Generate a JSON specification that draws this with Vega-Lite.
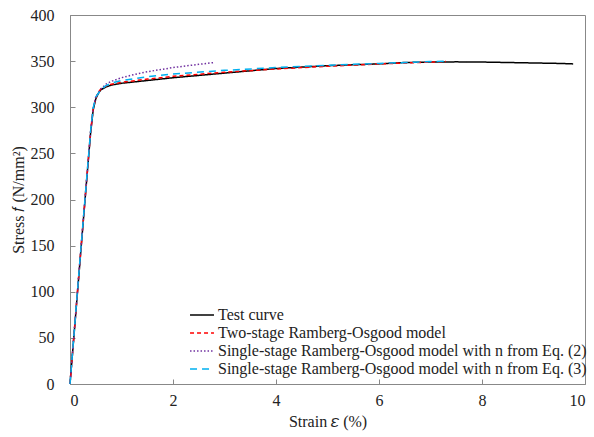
{
  "$schema": "https://vega.github.io/schema/vega-lite/v6.json",
  "width": 515,
  "height": 369,
  "autosize": {"type": "none"},
  "padding": {"left": 70, "top": 15, "right": 9, "bottom": 53},
  "background": "white",
  "config": {
    "font": "Liberation Serif",
    "view": {"stroke": "#888888", "strokeWidth": 1},
    "axis": {"labelFont": "Liberation Serif", "titleFont": "Liberation Serif", "labelFontSize": 16, "titleFontSize": 16, "labelColor": "#222", "titleColor": "#222", "titleFontWeight": "normal", "grid": false, "domainColor": "#888888", "tickColor": "#888888", "tickSize": -5},
    "legend": {"labelFont": "Liberation Serif"}
  },
  "data": {"values": [
    {"s": "Test curve", "x": 0, "y": 0},
    {"s": "Test curve", "x": 0.1, "y": 68},
    {"s": "Test curve", "x": 0.2, "y": 137},
    {"s": "Test curve", "x": 0.3, "y": 205},
    {"s": "Test curve", "x": 0.4, "y": 272},
    {"s": "Test curve", "x": 0.45, "y": 297},
    {"s": "Test curve", "x": 0.5, "y": 309},
    {"s": "Test curve", "x": 0.55, "y": 315},
    {"s": "Test curve", "x": 0.6, "y": 319},
    {"s": "Test curve", "x": 0.7, "y": 322},
    {"s": "Test curve", "x": 0.8, "y": 324},
    {"s": "Test curve", "x": 1.0, "y": 326},
    {"s": "Test curve", "x": 1.5, "y": 329},
    {"s": "Test curve", "x": 2.0, "y": 332},
    {"s": "Test curve", "x": 2.5, "y": 334.5},
    {"s": "Test curve", "x": 3.0, "y": 337},
    {"s": "Test curve", "x": 3.5, "y": 339.5},
    {"s": "Test curve", "x": 4.0, "y": 342},
    {"s": "Test curve", "x": 4.5, "y": 343.5},
    {"s": "Test curve", "x": 5.0, "y": 345},
    {"s": "Test curve", "x": 5.5, "y": 346},
    {"s": "Test curve", "x": 6.0, "y": 347},
    {"s": "Test curve", "x": 6.5, "y": 348.5},
    {"s": "Test curve", "x": 7.0, "y": 349},
    {"s": "Test curve", "x": 7.5, "y": 349.2},
    {"s": "Test curve", "x": 8.0, "y": 349},
    {"s": "Test curve", "x": 8.5, "y": 348.5},
    {"s": "Test curve", "x": 9.0, "y": 348},
    {"s": "Test curve", "x": 9.5, "y": 347.5},
    {"s": "Test curve", "x": 9.77, "y": 347},

    {"s": "Two-stage Ramberg-Osgood model", "x": 0, "y": 0},
    {"s": "Two-stage Ramberg-Osgood model", "x": 0.2, "y": 138},
    {"s": "Two-stage Ramberg-Osgood model", "x": 0.4, "y": 273},
    {"s": "Two-stage Ramberg-Osgood model", "x": 0.45, "y": 298},
    {"s": "Two-stage Ramberg-Osgood model", "x": 0.5, "y": 310},
    {"s": "Two-stage Ramberg-Osgood model", "x": 0.55, "y": 316},
    {"s": "Two-stage Ramberg-Osgood model", "x": 0.6, "y": 320},
    {"s": "Two-stage Ramberg-Osgood model", "x": 0.7, "y": 323},
    {"s": "Two-stage Ramberg-Osgood model", "x": 0.8, "y": 325},
    {"s": "Two-stage Ramberg-Osgood model", "x": 1.0, "y": 327},
    {"s": "Two-stage Ramberg-Osgood model", "x": 1.5, "y": 330.5},
    {"s": "Two-stage Ramberg-Osgood model", "x": 2.0, "y": 333.5},
    {"s": "Two-stage Ramberg-Osgood model", "x": 3.0, "y": 338},
    {"s": "Two-stage Ramberg-Osgood model", "x": 4.0, "y": 341.5},
    {"s": "Two-stage Ramberg-Osgood model", "x": 5.0, "y": 344.5},
    {"s": "Two-stage Ramberg-Osgood model", "x": 6.0, "y": 347},
    {"s": "Two-stage Ramberg-Osgood model", "x": 7.0, "y": 349},
    {"s": "Two-stage Ramberg-Osgood model", "x": 7.3, "y": 349.5},

    {"s": "Single-stage Ramberg-Osgood model with n from Eq. (2)", "x": 0, "y": 0},
    {"s": "Single-stage Ramberg-Osgood model with n from Eq. (2)", "x": 0.2, "y": 139},
    {"s": "Single-stage Ramberg-Osgood model with n from Eq. (2)", "x": 0.4, "y": 274},
    {"s": "Single-stage Ramberg-Osgood model with n from Eq. (2)", "x": 0.45, "y": 299},
    {"s": "Single-stage Ramberg-Osgood model with n from Eq. (2)", "x": 0.5, "y": 311},
    {"s": "Single-stage Ramberg-Osgood model with n from Eq. (2)", "x": 0.6, "y": 320},
    {"s": "Single-stage Ramberg-Osgood model with n from Eq. (2)", "x": 0.7, "y": 325},
    {"s": "Single-stage Ramberg-Osgood model with n from Eq. (2)", "x": 0.8, "y": 328},
    {"s": "Single-stage Ramberg-Osgood model with n from Eq. (2)", "x": 1.0, "y": 332},
    {"s": "Single-stage Ramberg-Osgood model with n from Eq. (2)", "x": 1.25, "y": 335.5},
    {"s": "Single-stage Ramberg-Osgood model with n from Eq. (2)", "x": 1.5, "y": 338.5},
    {"s": "Single-stage Ramberg-Osgood model with n from Eq. (2)", "x": 2.0, "y": 343},
    {"s": "Single-stage Ramberg-Osgood model with n from Eq. (2)", "x": 2.5, "y": 346.5},
    {"s": "Single-stage Ramberg-Osgood model with n from Eq. (2)", "x": 2.8, "y": 348.5},

    {"s": "Single-stage Ramberg-Osgood model with n from Eq. (3)", "x": 0, "y": 0},
    {"s": "Single-stage Ramberg-Osgood model with n from Eq. (3)", "x": 0.2, "y": 139},
    {"s": "Single-stage Ramberg-Osgood model with n from Eq. (3)", "x": 0.4, "y": 274},
    {"s": "Single-stage Ramberg-Osgood model with n from Eq. (3)", "x": 0.45, "y": 299},
    {"s": "Single-stage Ramberg-Osgood model with n from Eq. (3)", "x": 0.5, "y": 311},
    {"s": "Single-stage Ramberg-Osgood model with n from Eq. (3)", "x": 0.6, "y": 319},
    {"s": "Single-stage Ramberg-Osgood model with n from Eq. (3)", "x": 0.7, "y": 323.5},
    {"s": "Single-stage Ramberg-Osgood model with n from Eq. (3)", "x": 0.8, "y": 326},
    {"s": "Single-stage Ramberg-Osgood model with n from Eq. (3)", "x": 1.0, "y": 329},
    {"s": "Single-stage Ramberg-Osgood model with n from Eq. (3)", "x": 1.5, "y": 333},
    {"s": "Single-stage Ramberg-Osgood model with n from Eq. (3)", "x": 2.0, "y": 336},
    {"s": "Single-stage Ramberg-Osgood model with n from Eq. (3)", "x": 3.0, "y": 340},
    {"s": "Single-stage Ramberg-Osgood model with n from Eq. (3)", "x": 4.0, "y": 343},
    {"s": "Single-stage Ramberg-Osgood model with n from Eq. (3)", "x": 5.0, "y": 345.5},
    {"s": "Single-stage Ramberg-Osgood model with n from Eq. (3)", "x": 6.0, "y": 347.5},
    {"s": "Single-stage Ramberg-Osgood model with n from Eq. (3)", "x": 7.0, "y": 349.5},
    {"s": "Single-stage Ramberg-Osgood model with n from Eq. (3)", "x": 7.3, "y": 350}
  ]},
  "mark": {"type": "line", "strokeWidth": 1.5},
  "encoding": {
    "x": {"field": "x", "type": "quantitative", "title": "Strain 𝜀 (%)", "scale": {"domain": [0, 10], "nice": false}, "axis": {"values": [0, 2, 4, 6, 8, 10], "labelPadding": 13, "titlePadding": 5}},
    "y": {"field": "y", "type": "quantitative", "title": "Stress 𝑓 (N/mm²)", "scale": {"domain": [0, 400], "nice": false}, "axis": {"values": [0, 50, 100, 150, 200, 250, 300, 350, 400], "labelPadding": 21, "titlePadding": 4}},
    "color": {"field": "s", "type": "nominal", "title": null,
      "scale": {"domain": ["Test curve", "Two-stage Ramberg-Osgood model", "Single-stage Ramberg-Osgood model with n from Eq. (2)", "Single-stage Ramberg-Osgood model with n from Eq. (3)"], "range": ["#000000", "#FF0000", "#7030A0", "#00B0F0"]},
      "legend": {"orient": "none", "legendX": 122, "legendY": 290, "symbolType": "M-1.33,0H1.33", "symbolSize": 324, "symbolStrokeWidth": 1.5, "labelFontSize": 16, "labelColor": "#222", "rowPadding": 0, "labelOffset": 6, "labelLimit": 500}},
    "strokeDash": {"field": "s", "type": "nominal", "title": null,
      "scale": {"domain": ["Test curve", "Two-stage Ramberg-Osgood model", "Single-stage Ramberg-Osgood model with n from Eq. (2)", "Single-stage Ramberg-Osgood model with n from Eq. (3)"], "range": [[1, 0], [4, 3], [1.5, 2], [7, 5]]},
      "legend": null}
  }
}
